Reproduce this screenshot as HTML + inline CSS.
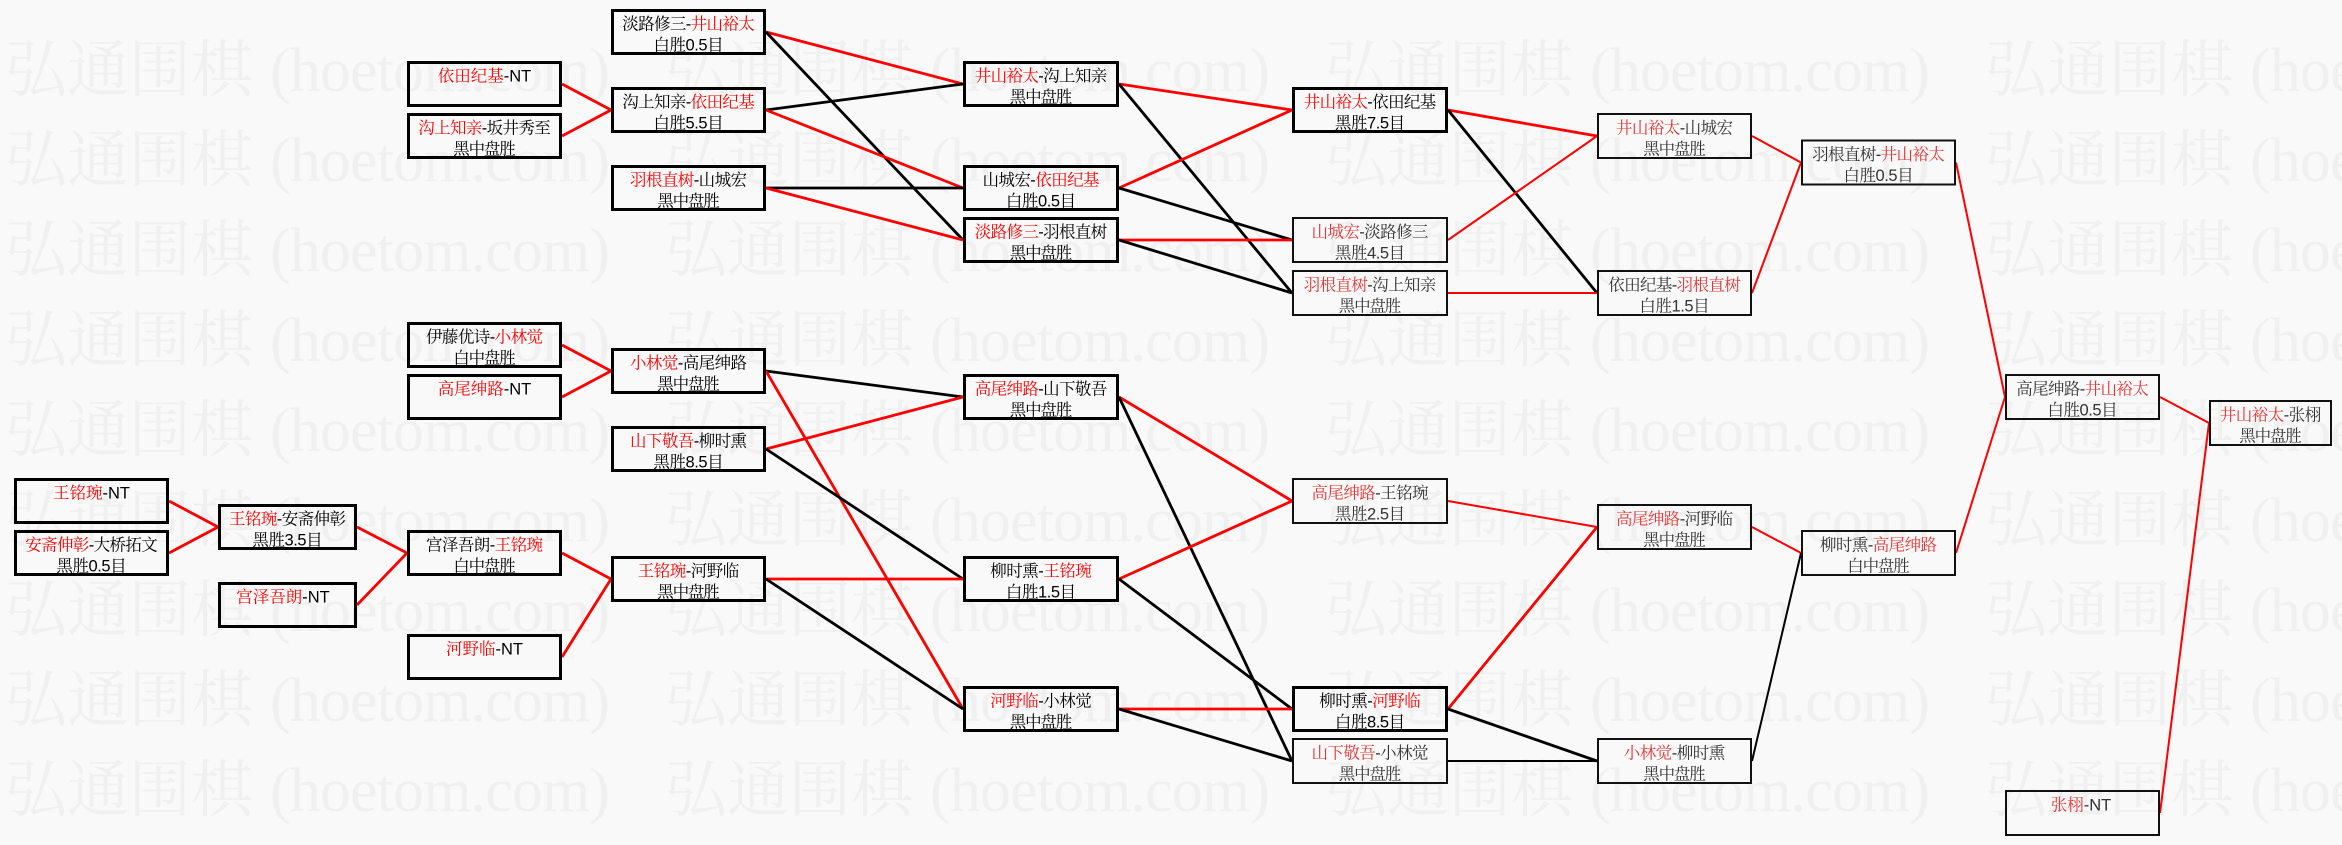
<!DOCTYPE html>
<html><head><meta charset="utf-8">
<style>
html,body{margin:0;padding:0;background:#f9f9f9;}
svg{display:block;}
.wm{font-family:"Liberation Serif","Noto Serif CJK SC",serif;font-size:62px;fill:#f0f0f0;}
.t{font-family:"Liberation Sans","Noto Serif CJK SC",sans-serif;font-size:16.5px;text-anchor:middle;}
.k{fill:#000;}
.k .r{fill:#f00;}
.g{fill:#333;}
.g .r{fill:#e83434;}
.bb{fill:none;stroke:#000;stroke-width:3;}
.tb{fill:none;stroke:#111;stroke-width:2;}
.lr{stroke:#f00;stroke-width:2.8;}
.lk{stroke:#000;stroke-width:2.8;}
.lr2{stroke:#f00;stroke-width:2;}
.lk2{stroke:#000;stroke-width:2;}
</style></head>
<body>
<svg width="2342" height="845" viewBox="0 0 2342 845" xmlns="http://www.w3.org/2000/svg">
<rect x="0" y="0" width="2342" height="845" fill="#f9f9f9"/>
<!-- watermark -->
<g class="wm">
<text x="5" y="91">弘通围棋</text><text x="270" y="91" textLength="340" lengthAdjust="spacing">(hoetom.com)</text>
<text x="665" y="91">弘通围棋</text><text x="930" y="91" textLength="340" lengthAdjust="spacing">(hoetom.com)</text>
<text x="1325" y="91">弘通围棋</text><text x="1590" y="91" textLength="340" lengthAdjust="spacing">(hoetom.com)</text>
<text x="1985" y="91">弘通围棋</text><text x="2250" y="91" textLength="340" lengthAdjust="spacing">(hoetom.com)</text>

<text x="5" y="181">弘通围棋</text><text x="270" y="181" textLength="340" lengthAdjust="spacing">(hoetom.com)</text>
<text x="665" y="181">弘通围棋</text><text x="930" y="181" textLength="340" lengthAdjust="spacing">(hoetom.com)</text>
<text x="1325" y="181">弘通围棋</text><text x="1590" y="181" textLength="340" lengthAdjust="spacing">(hoetom.com)</text>
<text x="1985" y="181">弘通围棋</text><text x="2250" y="181" textLength="340" lengthAdjust="spacing">(hoetom.com)</text>

<text x="5" y="271">弘通围棋</text><text x="270" y="271" textLength="340" lengthAdjust="spacing">(hoetom.com)</text>
<text x="665" y="271">弘通围棋</text><text x="930" y="271" textLength="340" lengthAdjust="spacing">(hoetom.com)</text>
<text x="1325" y="271">弘通围棋</text><text x="1590" y="271" textLength="340" lengthAdjust="spacing">(hoetom.com)</text>
<text x="1985" y="271">弘通围棋</text><text x="2250" y="271" textLength="340" lengthAdjust="spacing">(hoetom.com)</text>

<text x="5" y="361">弘通围棋</text><text x="270" y="361" textLength="340" lengthAdjust="spacing">(hoetom.com)</text>
<text x="665" y="361">弘通围棋</text><text x="930" y="361" textLength="340" lengthAdjust="spacing">(hoetom.com)</text>
<text x="1325" y="361">弘通围棋</text><text x="1590" y="361" textLength="340" lengthAdjust="spacing">(hoetom.com)</text>
<text x="1985" y="361">弘通围棋</text><text x="2250" y="361" textLength="340" lengthAdjust="spacing">(hoetom.com)</text>

<text x="5" y="451">弘通围棋</text><text x="270" y="451" textLength="340" lengthAdjust="spacing">(hoetom.com)</text>
<text x="665" y="451">弘通围棋</text><text x="930" y="451" textLength="340" lengthAdjust="spacing">(hoetom.com)</text>
<text x="1325" y="451">弘通围棋</text><text x="1590" y="451" textLength="340" lengthAdjust="spacing">(hoetom.com)</text>
<text x="1985" y="451">弘通围棋</text><text x="2250" y="451" textLength="340" lengthAdjust="spacing">(hoetom.com)</text>

<text x="5" y="541">弘通围棋</text><text x="270" y="541" textLength="340" lengthAdjust="spacing">(hoetom.com)</text>
<text x="665" y="541">弘通围棋</text><text x="930" y="541" textLength="340" lengthAdjust="spacing">(hoetom.com)</text>
<text x="1325" y="541">弘通围棋</text><text x="1590" y="541" textLength="340" lengthAdjust="spacing">(hoetom.com)</text>
<text x="1985" y="541">弘通围棋</text><text x="2250" y="541" textLength="340" lengthAdjust="spacing">(hoetom.com)</text>

<text x="5" y="631">弘通围棋</text><text x="270" y="631" textLength="340" lengthAdjust="spacing">(hoetom.com)</text>
<text x="665" y="631">弘通围棋</text><text x="930" y="631" textLength="340" lengthAdjust="spacing">(hoetom.com)</text>
<text x="1325" y="631">弘通围棋</text><text x="1590" y="631" textLength="340" lengthAdjust="spacing">(hoetom.com)</text>
<text x="1985" y="631">弘通围棋</text><text x="2250" y="631" textLength="340" lengthAdjust="spacing">(hoetom.com)</text>

<text x="5" y="721">弘通围棋</text><text x="270" y="721" textLength="340" lengthAdjust="spacing">(hoetom.com)</text>
<text x="665" y="721">弘通围棋</text><text x="930" y="721" textLength="340" lengthAdjust="spacing">(hoetom.com)</text>
<text x="1325" y="721">弘通围棋</text><text x="1590" y="721" textLength="340" lengthAdjust="spacing">(hoetom.com)</text>
<text x="1985" y="721">弘通围棋</text><text x="2250" y="721" textLength="340" lengthAdjust="spacing">(hoetom.com)</text>

<text x="5" y="811">弘通围棋</text><text x="270" y="811" textLength="340" lengthAdjust="spacing">(hoetom.com)</text>
<text x="665" y="811">弘通围棋</text><text x="930" y="811" textLength="340" lengthAdjust="spacing">(hoetom.com)</text>
<text x="1325" y="811">弘通围棋</text><text x="1590" y="811" textLength="340" lengthAdjust="spacing">(hoetom.com)</text>
<text x="1985" y="811">弘通围棋</text><text x="2250" y="811" textLength="340" lengthAdjust="spacing">(hoetom.com)</text>
</g>

<!-- connectors: top half -->
<line class="lr" x1="562" y1="84" x2="611" y2="110"/>
<line class="lr" x1="562" y1="136" x2="611" y2="110"/>
<line class="lr" x1="766" y1="32" x2="963" y2="84"/>
<line class="lk" x1="766" y1="32" x2="963" y2="240"/>
<line class="lk" x1="766" y1="110" x2="963" y2="84"/>
<line class="lr" x1="766" y1="110" x2="963" y2="188"/>
<line class="lk" x1="766" y1="188" x2="963" y2="188"/>
<line class="lr" x1="766" y1="188" x2="963" y2="240"/>
<line class="lr" x1="1119" y1="84" x2="1292" y2="110"/>
<line class="lk" x1="1119" y1="84" x2="1292" y2="293"/>
<line class="lr" x1="1119" y1="188" x2="1292" y2="110"/>
<line class="lk" x1="1119" y1="188" x2="1292" y2="240"/>
<line class="lr" x1="1119" y1="240" x2="1292" y2="240"/>
<line class="lk" x1="1119" y1="240" x2="1292" y2="293"/>
<line class="lr" x1="1448" y1="110" x2="1597" y2="136"/>
<line class="lk" x1="1448" y1="110" x2="1597" y2="293"/>
<line class="lr2" x1="1448" y1="240" x2="1597" y2="136"/>
<line class="lr2" x1="1448" y1="293" x2="1597" y2="293"/>
<line class="lr2" x1="1752" y1="136" x2="1801" y2="162.5"/>
<line class="lr2" x1="1752" y1="293" x2="1801" y2="162.5"/>
<line class="lr2" x1="1956" y1="162.5" x2="2005" y2="397"/>
<line class="lr2" x1="2160" y1="397" x2="2209" y2="423"/>
<line class="lr2" x1="2160" y1="813" x2="2209" y2="423"/>

<!-- connectors: bottom half -->
<line class="lr" x1="562" y1="345" x2="611" y2="371"/>
<line class="lr" x1="562" y1="397" x2="611" y2="371"/>
<line class="lk" x1="766" y1="371" x2="963" y2="397"/>
<line class="lr" x1="766" y1="371" x2="963" y2="709"/>
<line class="lr" x1="766" y1="449" x2="963" y2="397"/>
<line class="lk" x1="766" y1="449" x2="963" y2="579"/>
<line class="lr" x1="169" y1="501" x2="218" y2="527"/>
<line class="lr" x1="169" y1="553" x2="218" y2="527"/>
<line class="lr" x1="357" y1="527" x2="407" y2="553"/>
<line class="lr" x1="357" y1="605" x2="407" y2="553"/>
<line class="lr" x1="562" y1="553" x2="611" y2="579"/>
<line class="lr" x1="562" y1="657" x2="611" y2="579"/>
<line class="lr" x1="766" y1="579" x2="963" y2="579"/>
<line class="lk" x1="766" y1="579" x2="963" y2="709"/>
<line class="lr" x1="1119" y1="397" x2="1292" y2="501"/>
<line class="lk" x1="1119" y1="397" x2="1292" y2="761"/>
<line class="lr" x1="1119" y1="579" x2="1292" y2="501"/>
<line class="lk" x1="1119" y1="579" x2="1292" y2="709"/>
<line class="lr" x1="1119" y1="709" x2="1292" y2="709"/>
<line class="lk" x1="1119" y1="709" x2="1292" y2="761"/>
<line class="lr2" x1="1448" y1="501" x2="1597" y2="527"/>
<line class="lr" x1="1448" y1="709" x2="1597" y2="527"/>
<line class="lk" x1="1448" y1="709" x2="1597" y2="761"/>
<line class="lk2" x1="1448" y1="761" x2="1597" y2="761"/>
<line class="lr2" x1="1752" y1="527" x2="1801" y2="553"/>
<line class="lk2" x1="1752" y1="761" x2="1801" y2="553"/>
<line class="lr2" x1="1956" y1="553" x2="2005" y2="397"/>

<!-- boxes -->
<!-- 1 -->
<rect class="bb" x="612.5" y="10.5" width="152" height="43"/>
<text class="t k" x="688.5" y="29.6" textLength="132.6" lengthAdjust="spacing">淡路修三-<tspan class="r">井山裕太</tspan></text>
<text class="t k" x="688.5" y="50.4" textLength="70.2" lengthAdjust="spacing">白胜0.5目</text>
<!-- 2 -->
<rect class="bb" x="408.5" y="62.5" width="152" height="43"/>
<text class="t k" x="484.5" y="81.6"><tspan class="r">依田纪基</tspan>-NT</text>
<!-- 3 -->
<rect class="bb" x="408.5" y="114.5" width="152" height="43"/>
<text class="t k" x="484.5" y="133.6" textLength="132.6" lengthAdjust="spacing"><tspan class="r">沟上知亲</tspan>-坂井秀至</text>
<text class="t k" x="484.5" y="154.4" textLength="62.4" lengthAdjust="spacing">黑中盘胜</text>
<!-- 4 -->
<rect class="bb" x="612.5" y="88.5" width="152" height="43"/>
<text class="t k" x="688.5" y="107.6" textLength="132.6" lengthAdjust="spacing">沟上知亲-<tspan class="r">依田纪基</tspan></text>
<text class="t k" x="688.5" y="128.4" textLength="70.2" lengthAdjust="spacing">白胜5.5目</text>
<!-- 5 -->
<rect class="bb" x="612.5" y="166.5" width="152" height="43"/>
<text class="t k" x="688.5" y="185.6" textLength="117" lengthAdjust="spacing"><tspan class="r">羽根直树</tspan>-山城宏</text>
<text class="t k" x="688.5" y="206.4" textLength="62.4" lengthAdjust="spacing">黑中盘胜</text>
<!-- 6 -->
<rect class="bb" x="964.5" y="62.5" width="153" height="43"/>
<text class="t k" x="1041" y="81.6" textLength="132.6" lengthAdjust="spacing"><tspan class="r">井山裕太</tspan>-沟上知亲</text>
<text class="t k" x="1041" y="102.4" textLength="62.4" lengthAdjust="spacing">黑中盘胜</text>
<!-- 7 -->
<rect class="bb" x="964.5" y="166.5" width="153" height="43"/>
<text class="t k" x="1041" y="185.6" textLength="117" lengthAdjust="spacing">山城宏-<tspan class="r">依田纪基</tspan></text>
<text class="t k" x="1041" y="206.4" textLength="70.2" lengthAdjust="spacing">白胜0.5目</text>
<!-- 8 -->
<rect class="bb" x="964.5" y="218.5" width="153" height="43"/>
<text class="t k" x="1041" y="237.6" textLength="132.6" lengthAdjust="spacing"><tspan class="r">淡路修三</tspan>-羽根直树</text>
<text class="t k" x="1041" y="258.4" textLength="62.4" lengthAdjust="spacing">黑中盘胜</text>
<!-- 9 -->
<rect class="bb" x="1293.5" y="88.5" width="153" height="43"/>
<text class="t k" x="1370" y="107.6" textLength="132.6" lengthAdjust="spacing"><tspan class="r">井山裕太</tspan>-依田纪基</text>
<text class="t k" x="1370" y="128.4" textLength="70.2" lengthAdjust="spacing">黑胜7.5目</text>
<!-- 10 -->
<rect class="tb" x="1293" y="218" width="154" height="44"/>
<text class="t g" x="1370" y="237.6" textLength="117" lengthAdjust="spacing"><tspan class="r">山城宏</tspan>-淡路修三</text>
<text class="t g" x="1370" y="258.4" textLength="70.2" lengthAdjust="spacing">黑胜4.5目</text>
<!-- 11 -->
<rect class="tb" x="1293" y="271" width="154" height="44"/>
<text class="t g" x="1370" y="290.6" textLength="132.6" lengthAdjust="spacing"><tspan class="r">羽根直树</tspan>-沟上知亲</text>
<text class="t g" x="1370" y="311.4" textLength="62.4" lengthAdjust="spacing">黑中盘胜</text>
<!-- 12 -->
<rect class="tb" x="1598" y="114" width="153" height="44"/>
<text class="t g" x="1674.5" y="133.6" textLength="117" lengthAdjust="spacing"><tspan class="r">井山裕太</tspan>-山城宏</text>
<text class="t g" x="1674.5" y="154.4" textLength="62.4" lengthAdjust="spacing">黑中盘胜</text>
<!-- 13 -->
<rect class="tb" x="1598" y="271" width="153" height="44"/>
<text class="t g" x="1674.5" y="290.6" textLength="132.6" lengthAdjust="spacing">依田纪基-<tspan class="r">羽根直树</tspan></text>
<text class="t g" x="1674.5" y="311.4" textLength="70.2" lengthAdjust="spacing">白胜1.5目</text>
<!-- 14 -->
<rect class="tb" x="1802" y="140.5" width="153" height="44"/>
<text class="t g" x="1878.5" y="160.1" textLength="132.6" lengthAdjust="spacing">羽根直树-<tspan class="r">井山裕太</tspan></text>
<text class="t g" x="1878.5" y="180.9" textLength="70.2" lengthAdjust="spacing">白胜0.5目</text>
<!-- 15 -->
<rect class="bb" x="408.5" y="323.5" width="152" height="43"/>
<text class="t k" x="484.5" y="342.6" textLength="117" lengthAdjust="spacing">伊藤优诗-<tspan class="r">小林觉</tspan></text>
<text class="t k" x="484.5" y="363.4" textLength="62.4" lengthAdjust="spacing">白中盘胜</text>
<!-- 16 -->
<rect class="bb" x="408.5" y="375.5" width="152" height="43"/>
<text class="t k" x="484.5" y="394.6"><tspan class="r">高尾绅路</tspan>-NT</text>
<!-- 17 -->
<rect class="bb" x="612.5" y="349.5" width="152" height="43"/>
<text class="t k" x="688.5" y="368.6" textLength="117" lengthAdjust="spacing"><tspan class="r">小林觉</tspan>-高尾绅路</text>
<text class="t k" x="688.5" y="389.4" textLength="62.4" lengthAdjust="spacing">黑中盘胜</text>
<!-- 18 -->
<rect class="bb" x="612.5" y="427.5" width="152" height="43"/>
<text class="t k" x="688.5" y="446.6" textLength="117" lengthAdjust="spacing"><tspan class="r">山下敬吾</tspan>-柳时熏</text>
<text class="t k" x="688.5" y="467.4" textLength="70.2" lengthAdjust="spacing">黑胜8.5目</text>
<!-- 19 -->
<rect class="bb" x="964.5" y="375.5" width="153" height="43"/>
<text class="t k" x="1041" y="394.6" textLength="132.6" lengthAdjust="spacing"><tspan class="r">高尾绅路</tspan>-山下敬吾</text>
<text class="t k" x="1041" y="415.4" textLength="62.4" lengthAdjust="spacing">黑中盘胜</text>
<!-- 20 -->
<rect class="tb" x="1293" y="479" width="154" height="44"/>
<text class="t g" x="1370" y="498.6" textLength="117" lengthAdjust="spacing"><tspan class="r">高尾绅路</tspan>-王铭琬</text>
<text class="t g" x="1370" y="519.4" textLength="70.2" lengthAdjust="spacing">黑胜2.5目</text>
<!-- 21 -->
<rect class="bb" x="15.5" y="479.5" width="152" height="43"/>
<text class="t k" x="91.5" y="498.6"><tspan class="r">王铭琬</tspan>-NT</text>
<!-- 22 -->
<rect class="bb" x="15.5" y="531.5" width="152" height="43"/>
<text class="t k" x="91.5" y="550.6" textLength="132.6" lengthAdjust="spacing"><tspan class="r">安斋伸彰</tspan>-大桥拓文</text>
<text class="t k" x="91.5" y="571.4" textLength="70.2" lengthAdjust="spacing">黑胜0.5目</text>
<!-- 23 -->
<rect class="bb" x="219.5" y="505.5" width="136" height="43"/>
<text class="t k" x="287.5" y="524.6" textLength="117" lengthAdjust="spacing"><tspan class="r">王铭琬</tspan>-安斋伸彰</text>
<text class="t k" x="287.5" y="545.4" textLength="70.2" lengthAdjust="spacing">黑胜3.5目</text>
<!-- 24 -->
<rect class="bb" x="219.5" y="583.5" width="136" height="43"/>
<text class="t k" x="283" y="602.6"><tspan class="r">宫泽吾朗</tspan>-NT</text>
<!-- 25 -->
<rect class="bb" x="408.5" y="531.5" width="152" height="43"/>
<text class="t k" x="484.5" y="550.6" textLength="117" lengthAdjust="spacing">宫泽吾朗-<tspan class="r">王铭琬</tspan></text>
<text class="t k" x="484.5" y="571.4" textLength="62.4" lengthAdjust="spacing">白中盘胜</text>
<!-- 26 -->
<rect class="bb" x="408.5" y="635.5" width="152" height="43"/>
<text class="t k" x="484.5" y="654.6"><tspan class="r">河野临</tspan>-NT</text>
<!-- 27 -->
<rect class="bb" x="612.5" y="557.5" width="152" height="43"/>
<text class="t k" x="688.5" y="576.6" textLength="101.4" lengthAdjust="spacing"><tspan class="r">王铭琬</tspan>-河野临</text>
<text class="t k" x="688.5" y="597.4" textLength="62.4" lengthAdjust="spacing">黑中盘胜</text>
<!-- 28 -->
<rect class="bb" x="964.5" y="557.5" width="153" height="43"/>
<text class="t k" x="1041" y="576.6" textLength="101.4" lengthAdjust="spacing">柳时熏-<tspan class="r">王铭琬</tspan></text>
<text class="t k" x="1041" y="597.4" textLength="70.2" lengthAdjust="spacing">白胜1.5目</text>
<!-- 29 -->
<rect class="bb" x="964.5" y="687.5" width="153" height="43"/>
<text class="t k" x="1041" y="706.6" textLength="101.4" lengthAdjust="spacing"><tspan class="r">河野临</tspan>-小林觉</text>
<text class="t k" x="1041" y="727.4" textLength="62.4" lengthAdjust="spacing">黑中盘胜</text>
<!-- 30 -->
<rect class="bb" x="1293.5" y="687.5" width="153" height="43"/>
<text class="t k" x="1370" y="706.6" textLength="101.4" lengthAdjust="spacing">柳时熏-<tspan class="r">河野临</tspan></text>
<text class="t k" x="1370" y="727.4" textLength="70.2" lengthAdjust="spacing">白胜8.5目</text>
<!-- 31 -->
<rect class="tb" x="1293" y="739" width="154" height="44"/>
<text class="t g" x="1370" y="758.6" textLength="117" lengthAdjust="spacing"><tspan class="r">山下敬吾</tspan>-小林觉</text>
<text class="t g" x="1370" y="779.4" textLength="62.4" lengthAdjust="spacing">黑中盘胜</text>
<!-- 32 -->
<rect class="tb" x="1598" y="505" width="153" height="44"/>
<text class="t g" x="1674.5" y="524.6" textLength="117" lengthAdjust="spacing"><tspan class="r">高尾绅路</tspan>-河野临</text>
<text class="t g" x="1674.5" y="545.4" textLength="62.4" lengthAdjust="spacing">黑中盘胜</text>
<!-- 33 -->
<rect class="tb" x="1598" y="739" width="153" height="44"/>
<text class="t g" x="1674.5" y="758.6" textLength="101.4" lengthAdjust="spacing"><tspan class="r">小林觉</tspan>-柳时熏</text>
<text class="t g" x="1674.5" y="779.4" textLength="62.4" lengthAdjust="spacing">黑中盘胜</text>
<!-- 34 -->
<rect class="tb" x="1802" y="531" width="153" height="44"/>
<text class="t g" x="1878.5" y="550.6" textLength="117" lengthAdjust="spacing">柳时熏-<tspan class="r">高尾绅路</tspan></text>
<text class="t g" x="1878.5" y="571.4" textLength="62.4" lengthAdjust="spacing">白中盘胜</text>
<!-- 35 -->
<rect class="tb" x="2006" y="375" width="153" height="44"/>
<text class="t g" x="2082.5" y="394.6" textLength="132.6" lengthAdjust="spacing">高尾绅路-<tspan class="r">井山裕太</tspan></text>
<text class="t g" x="2082.5" y="415.4" textLength="70.2" lengthAdjust="spacing">白胜0.5目</text>
<!-- 36 -->
<rect class="tb" x="2006" y="791" width="153" height="44"/>
<text class="t g" x="2081" y="810.6"><tspan class="r">张栩</tspan>-NT</text>
<!-- 37 -->
<rect class="tb" x="2210" y="401" width="121" height="44"/>
<text class="t g" x="2270.5" y="420.6" textLength="101.4" lengthAdjust="spacing"><tspan class="r">井山裕太</tspan>-张栩</text>
<text class="t g" x="2270.5" y="441.4" textLength="62.4" lengthAdjust="spacing">黑中盘胜</text>
</svg>
</body></html>
